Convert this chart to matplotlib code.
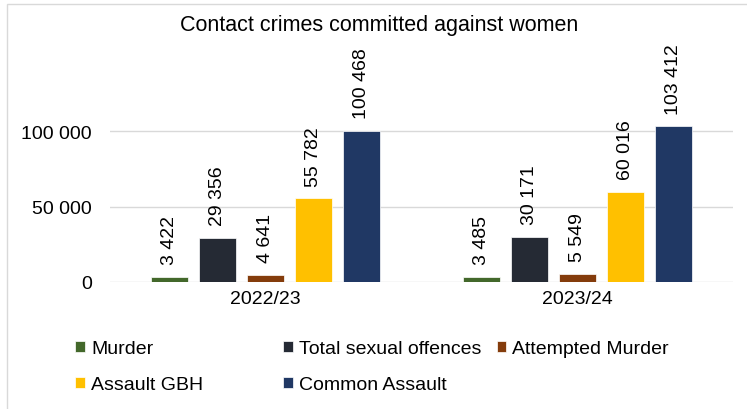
import matplotlib
matplotlib.use("Agg")
import matplotlib.pyplot as plt
from matplotlib.patches import Rectangle
import numpy as np

plt.rcParams['font.family'] = ['Liberation Sans', 'DejaVu Sans']

# data
years = ['2022/23', '2023/24']
series = ['Murder', 'Total sexual offences', 'Attempted Murder', 'Assault GBH', 'Common Assault']
murder = [3422, 3485]
sexual = [29356, 30171]
attempted = [4641, 5549]
gbh = [55782, 60016]
common = [100468, 103412]
colours = ['#43682b', '#252a34', '#843c0c', '#ffc000', '#203864']
values = [murder, sexual, attempted, gbh, common]

def fmt(v):
    return f'{v:,.0f}'.replace(',', ' ')

fig = plt.figure(figsize=(7.47, 4.10), dpi=100)
ax = fig.add_axes([0.1473, 0.3098, 0.834, 0.580])

x = np.arange(len(years))
step = 0.154
width = 0.119
handles = []
for i, (name, vals, col) in enumerate(zip(series, values, colours)):
    b = ax.bar(x + (i - 2) * step, vals, width, color=col, edgecolor='white',
               linewidth=0.5, label=name, zorder=3)
    ax.bar_label(b, labels=[fmt(v) for v in vals], rotation=90, padding=9,
                 fontsize=14, color='black')
    handles.append(b)

ax.set_xlim(-0.5, 1.5)
ax.set_ylim(0, 158000)
ax.set_yticks([0, 50000, 100000])
ax.set_yticklabels([fmt(v) for v in [0, 50000, 100000]])
ax.set_xticks(x)
ax.set_xticklabels(years)
ax.tick_params(axis='both', length=0, labelsize=14)
ax.tick_params(axis='y', pad=13)
ax.tick_params(axis='x', pad=6)
ax.grid(axis='y', color='#d9d9d9', linewidth=1, zorder=0)
for s in ax.spines.values():
    s.set_visible(False)

fig.text(0.507, 0.939, 'Contact crimes committed against women', ha='center',
         va='center', fontsize=15.5)

# legend split into three columns
cols = [[0, 3], [1, 4], [2]]
xpos = [0.101, 0.379, 0.665]
kw = dict(frameon=False, fontsize=14, handlelength=0.5, handleheight=0.5,
          handletextpad=0.3, labelspacing=0.98, borderaxespad=0, borderpad=0)
for idx, xp in zip(cols, xpos):
    fig.legend([handles[i] for i in idx], [series[i] for i in idx],
               loc='upper left', bbox_to_anchor=(xp, 0.168), **kw)

# light border round the chart
fig.patches.append(Rectangle((7 / 747, -0.1), 1.2, 1.1 - 5 / 410,
                             transform=fig.transFigure, fill=False,
                             edgecolor='#d9d9d9', linewidth=1))

fig.savefig('out.png', dpi=100)
